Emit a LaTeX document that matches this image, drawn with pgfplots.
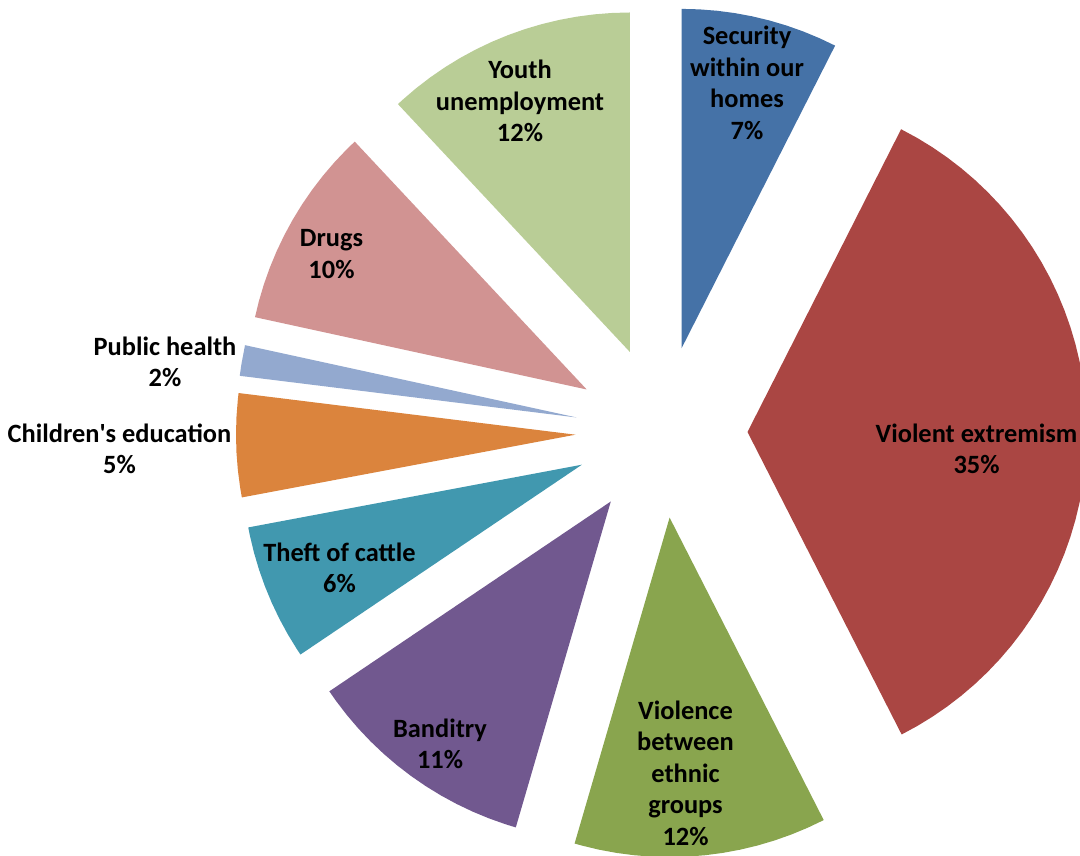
\documentclass[border=0pt]{standalone}
\usepackage{pgfplots}
\pgfplotsset{compat=1.18}
\usepgfplotslibrary{polar}
\usepackage{fontspec}
\setmainfont{Carlito}

\definecolor{csec}{HTML}{4572A7}
\definecolor{cve}{HTML}{AA4643}
\definecolor{ceth}{HTML}{89A54E}
\definecolor{cban}{HTML}{71588F}
\definecolor{cthe}{HTML}{4198AF}
\definecolor{cchi}{HTML}{DB843D}
\definecolor{cph}{HTML}{93A9CF}
\definecolor{cdru}{HTML}{D19392}
\definecolor{cyou}{HTML}{B9CD96}

\tikzset{lbl/.style={align=center, font=\fontsize{26.4}{31.5}\selectfont\bfseries, text=black}}

\begin{document}
\begin{tikzpicture}
% slices: (angle, radius) from 90 deg clockwise, each pushed out along its middle
\begin{axis}[x=1pt, y=1pt,
  xmin=-661.5, xmax=418.5, ymin=-424, ymax=432,
  hide axis, clip bounding box=upper bound,
  every axis plot/.append style={draw=none, data cs=polar}]

% Security within our homes 7%
\addplot[fill=csec, shift={(20.0pt,83.6pt)}] coordinates {(0,0) (63.1,339.5) (66,339.5) (69,339.5) (72,339.5) (75,339.5) (78,339.5) (81,339.5) (84,339.5) (87,339.5) (90,339.5) (0,0)};
% Violent extremism 35%
\addplot[fill=cve, shift={(86.0pt,0pt)}] coordinates {(0,0) (-63,339.5) (-60,339.5) (-57,339.5) (-54,339.5) (-51,339.5) (-48,339.5) (-45,339.5) (-42,339.5) (-39,339.5) (-36,339.5) (-33,339.5) (-30,339.5) (-27,339.5) (-24,339.5) (-21,339.5) (-18,339.5) (-15,339.5) (-12,339.5) (-9,339.5) (-6,339.5) (-3,339.5) (0,339.5) (3,339.5) (6,339.5) (9,339.5) (12,339.5) (15,339.5) (18,339.5) (21,339.5) (24,339.5) (27,339.5) (30,339.5) (33,339.5) (36,339.5) (39,339.5) (42,339.5) (45,339.5) (48,339.5) (51,339.5) (54,339.5) (57,339.5) (60,339.5) (63.1,339.5) (0,0)};
% Violence between ethnic groups 12%
\addplot[fill=ceth, shift={(8.1pt,-85.6pt)}] coordinates {(0,0) (-106.25,339.5) (-105,339.5) (-102,339.5) (-99,339.5) (-96,339.5) (-93,339.5) (-90,339.5) (-87,339.5) (-84,339.5) (-81,339.5) (-78,339.5) (-75,339.5) (-72,339.5) (-69,339.5) (-66,339.5) (-63,339.5) (0,0)};
% Banditry 11%
\addplot[fill=cban, shift={(-50.7pt,-69.5pt)}] coordinates {(0,0) (-146,339.5) (-144,339.5) (-141,339.5) (-138,339.5) (-135,339.5) (-132,339.5) (-129,339.5) (-126,339.5) (-123,339.5) (-120,339.5) (-117,339.5) (-114,339.5) (-111,339.5) (-108,339.5) (-106.25,339.5) (0,0)};
% Theft of cattle 6%
\addplot[fill=cthe, shift={(-79.6pt,-32.7pt)}] coordinates {(0,0) (-169.35,339.5) (-168,339.5) (-165,339.5) (-162,339.5) (-159,339.5) (-156,339.5) (-153,339.5) (-150,339.5) (-147,339.5) (-146,339.5) (0,0)};
% Children's education 5%
\addplot[fill=cchi, shift={(-86.0pt,-2.7pt)}] coordinates {(0,0) (-187.05,339.5) (-186,339.5) (-183,339.5) (-180,339.5) (-177,339.5) (-174,339.5) (-171,339.5) (-169.35,339.5) (0,0)};
% Public health 2%
\addplot[fill=cph, shift={(-84.8pt,14.5pt)}] coordinates {(0,0) (-192.3,339.5) (-189,339.5) (-187.05,339.5) (0,0)};
% Drugs 10%
\addplot[fill=cdru, shift={(-74.8pt,42.5pt)}] coordinates {(0,0) (-226.9,339.5) (-225,339.5) (-222,339.5) (-219,339.5) (-216,339.5) (-213,339.5) (-210,339.5) (-207,339.5) (-204,339.5) (-201,339.5) (-198,339.5) (-195,339.5) (-192.3,339.5) (0,0)};
% Youth unemployment 12%
\addplot[fill=cyou, shift={(-31.6pt,80.0pt)}] coordinates {(0,0) (90,339.5) (93,339.5) (96,339.5) (99,339.5) (102,339.5) (105,339.5) (108,339.5) (111,339.5) (114,339.5) (117,339.5) (120,339.5) (123,339.5) (126,339.5) (129,339.5) (132,339.5) (133.1,339.5) (0,0)};

\node[lbl] at (axis cs:85.5,349) {Security\\within our\\homes\\7\%};
\node[lbl] at (axis cs:315,-17) {Violent extremism\\35\%};
\node[lbl] at (axis cs:24,-341) {Violence\\between\\ethnic\\groups\\12\%};
\node[lbl] at (axis cs:-221.5,-312) {Banditry\\11\%};
\node[lbl] at (axis cs:-322,-136) {Theft of cattle\\6\%};
\node[lbl] at (axis cs:-542,-17) {Children\textquotesingle s education\\5\%};
\node[lbl] at (axis cs:-496.5,70) {Public health\\2\%};
\node[lbl] at (axis cs:-330,178) {Drugs\\10\%};
\node[lbl] at (axis cs:-141.5,331) {Youth\\unemployment\\12\%};
\end{axis}
\pgfresetboundingbox
\path[use as bounding box] (current axis.south west) rectangle (current axis.north east);
\end{tikzpicture}
\end{document}
